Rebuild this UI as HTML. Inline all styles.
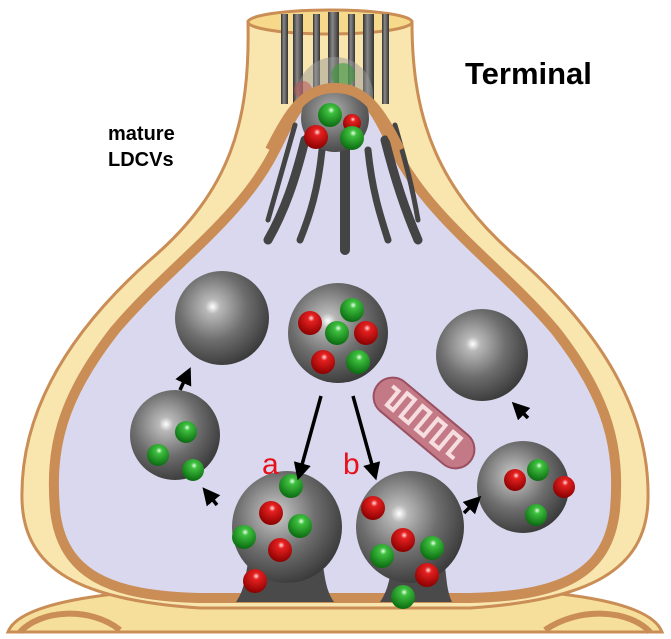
<!DOCTYPE html>
<html><head><meta charset="utf-8"><style>html,body{margin:0;padding:0;background:#fff}svg{display:block}</style></head>
<body>
<svg width="671" height="639" viewBox="0 0 671 639" xmlns="http://www.w3.org/2000/svg">
<defs>
<radialGradient id="ves" cx="0.4" cy="0.38" r="0.65">
<stop offset="0" stop-color="#ffffff"/><stop offset="0.12" stop-color="#b8b8b8"/><stop offset="0.55" stop-color="#6e6e6e"/><stop offset="1" stop-color="#3a3a3a"/></radialGradient>
<radialGradient id="ves2" cx="0.45" cy="0.4" r="0.65">
<stop offset="0" stop-color="#f0f0f0"/><stop offset="0.15" stop-color="#a0a0a0"/><stop offset="0.6" stop-color="#6a6a6a"/><stop offset="1" stop-color="#444"/></radialGradient>
<radialGradient id="g" cx="0.55" cy="0.3" r="0.7"><stop offset="0" stop-color="#e8ffe8"/><stop offset="0.2" stop-color="#3fc03f"/><stop offset="1" stop-color="#0a6a10"/></radialGradient>
<radialGradient id="r" cx="0.55" cy="0.3" r="0.7"><stop offset="0" stop-color="#ffe0e0"/><stop offset="0.2" stop-color="#e52020"/><stop offset="1" stop-color="#8a0000"/></radialGradient>
<linearGradient id="rod" x1="0" x2="1"><stop offset="0" stop-color="#333"/><stop offset="0.4" stop-color="#888"/><stop offset="1" stop-color="#333"/></linearGradient>
<marker id="ah" markerWidth="5" markerHeight="5" refX="2.5" refY="2.5" orient="auto" markerUnits="strokeWidth"><path d="M0,0 L5,2.5 L0,5 Z" fill="#000"/></marker>
</defs>
<!-- postsynaptic -->
<path d="M8,632 C20,600 120,590 230,586 L440,586 C560,590 650,600 662,632 Z" fill="#f6df9a" stroke="#c98d55" stroke-width="3"/>
<path d="M20,632 C40,610 90,606 120,630" fill="none" stroke="#c98d55" stroke-width="6"/>
<path d="M545,630 C580,606 630,610 650,632" fill="none" stroke="#c98d55" stroke-width="6"/>
<!-- terminal outer -->
<path d="M248,22 C250,120 232,190 150,260 C60,340 20,420 22,500 C24,570 80,600 200,608 L470,608 C590,600 646,570 648,500 C650,420 610,340 520,260 C438,190 412,120 412,22 Z" fill="#f8e6ae" stroke="#c98d55" stroke-width="3"/>
<!-- neck ellipse -->
<ellipse cx="330" cy="22" rx="82" ry="12" fill="#f6d98a" stroke="#c98d55" stroke-width="3"/>
<!-- neck rods -->
<g fill="url(#rod)">
<rect x="281" y="14" width="7" height="90"/><rect x="293" y="14" width="10" height="90"/><rect x="313" y="14" width="7" height="90"/><rect x="328" y="12" width="11" height="90"/><rect x="348" y="14" width="7" height="90"/><rect x="363" y="14" width="11" height="90"/><rect x="382" y="14" width="7" height="90"/>
</g>
<circle cx="335" cy="95" r="38" fill="#9a9a9a" opacity="0.5"/>
<circle cx="343" cy="75" r="12" fill="#3c9b3c" opacity="0.6"/>
<circle cx="303" cy="90" r="9" fill="#c05050" opacity="0.5"/>
<!-- inner membrane -->
<path d="M335,88 C305,88 295,110 275,150 C240,220 170,265 115,330 C60,400 50,450 55,510 C62,575 110,596 200,598 L470,598 C560,596 608,575 615,510 C620,450 610,400 555,330 C500,265 430,220 395,150 C375,110 365,88 335,88 Z" fill="#d9d8ee" stroke="#c98d55" stroke-width="10"/>
<!-- fanning rods -->
<g stroke="#444" stroke-linecap="round" fill="none">
<path d="M345,150 L345,250" stroke-width="10"/>
<path d="M322,150 C318,190 310,215 300,240" stroke-width="7"/>
<path d="M368,150 C372,190 380,215 388,240" stroke-width="7"/>
<path d="M305,140 C295,180 285,210 268,240" stroke-width="9"/>
<path d="M385,140 C395,180 405,210 418,240" stroke-width="9"/>
<path d="M295,125 C285,160 278,185 268,220" stroke-width="5"/>
<path d="M395,125 C405,160 412,185 418,220" stroke-width="5"/>
</g>
<!-- top vesicle -->
<circle cx="335" cy="118" r="34" fill="url(#ves2)"/>
<path d="M270,150 C290,110 305,88 335,88 C365,88 380,110 400,150" fill="none" stroke="#c98d55" stroke-width="10"/>
<circle cx="330" cy="115" r="12" fill="url(#g)"/>
<circle cx="352" cy="123" r="9" fill="url(#r)"/>
<circle cx="316" cy="137" r="12" fill="url(#r)"/>
<circle cx="352" cy="138" r="12" fill="url(#g)"/>
<!-- empty vesicles -->
<circle cx="222" cy="318" r="47" fill="url(#ves)"/>
<circle cx="482" cy="355" r="46" fill="url(#ves)"/>
<!-- central vesicle -->
<circle cx="338" cy="333" r="50" fill="url(#ves)"/>
<circle cx="352" cy="310" r="12" fill="url(#g)"/><circle cx="310" cy="323" r="12" fill="url(#r)"/><circle cx="337" cy="333" r="12" fill="url(#g)"/><circle cx="366" cy="333" r="12" fill="url(#r)"/><circle cx="323" cy="362" r="12" fill="url(#r)"/><circle cx="358" cy="362" r="12" fill="url(#g)"/>
<!-- left small vesicle -->
<circle cx="175" cy="435" r="45" fill="url(#ves)"/>
<circle cx="186" cy="432" r="11" fill="url(#g)"/><circle cx="158" cy="455" r="11" fill="url(#g)"/><circle cx="193" cy="470" r="11" fill="url(#g)"/>
<!-- right small vesicle -->
<circle cx="523" cy="487" r="46" fill="url(#ves)"/>
<circle cx="515" cy="480" r="11" fill="url(#r)"/><circle cx="538" cy="470" r="11" fill="url(#g)"/><circle cx="564" cy="487" r="11" fill="url(#r)"/><circle cx="536" cy="515" r="11" fill="url(#g)"/>
<!-- docked vesicles -->
<path d="M236,602 C248,585 245,565 252,548 L318,548 C326,565 322,585 334,602 Z" fill="#4a4a4a"/>
<ellipse cx="287" cy="527" rx="55" ry="56" fill="url(#ves)"/>
<circle cx="291" cy="486" r="12" fill="url(#g)"/><circle cx="271" cy="513" r="12" fill="url(#r)"/><circle cx="300" cy="526" r="12" fill="url(#g)"/><circle cx="244" cy="537" r="12" fill="url(#g)"/><circle cx="280" cy="550" r="12" fill="url(#r)"/><circle cx="255" cy="581" r="12" fill="url(#r)"/>
<path d="M380,602 C392,585 390,565 396,548 L440,548 C448,565 444,585 452,602 Z" fill="#4a4a4a"/>
<ellipse cx="410" cy="527" rx="54" ry="56" fill="url(#ves)"/>
<circle cx="373" cy="508" r="12" fill="url(#r)"/><circle cx="403" cy="540" r="12" fill="url(#r)"/><circle cx="382" cy="556" r="12" fill="url(#g)"/><circle cx="432" cy="548" r="12" fill="url(#g)"/><circle cx="427" cy="575" r="12" fill="url(#r)"/><circle cx="403" cy="597" r="12" fill="url(#g)"/>
<!-- mitochondrion -->
<g transform="translate(424,423) rotate(40)">
<rect x="-60" y="-19" width="120" height="38" rx="19" fill="#c47a86" stroke="#9a5060" stroke-width="2"/>
<path d="M-48,-8 L-40,-8 L-40,10 L-32,10 L-32,-12 L-22,-12 L-22,10 L-12,10 L-12,-12 L-2,-12 L-2,10 L8,10 L8,-12 L18,-12 L18,10 L28,10 L28,-12 L38,-12 L38,8 L46,8" fill="none" stroke="#f6dde0" stroke-width="4"/>
</g>
<!-- arrows -->
<g stroke="#000" stroke-width="3.5" fill="none" marker-end="url(#ah)">
<path d="M321,396 L300,472"/>
<path d="M353,396 L374,472"/>
<path d="M180,390 L187,375"/>
<path d="M217,505 L208,494"/>
<path d="M464,513 L475,502"/>
<path d="M528,418 L518,408"/>
</g>
<!-- labels -->
<text x="262" y="474" font-family="Liberation Sans, sans-serif" font-size="30" fill="#e8101a">a</text>
<text x="343" y="474" font-family="Liberation Sans, sans-serif" font-size="30" fill="#e8101a">b</text>
<text x="465" y="84" font-family="Liberation Sans, sans-serif" font-size="31" font-weight="bold" fill="#000">Terminal</text>
<text x="108" y="140" font-family="Liberation Sans, sans-serif" font-size="20" font-weight="bold" fill="#000">mature</text>
<text x="108" y="166" font-family="Liberation Sans, sans-serif" font-size="20" font-weight="bold" fill="#000">LDCVs</text>
</svg>
</body></html>
